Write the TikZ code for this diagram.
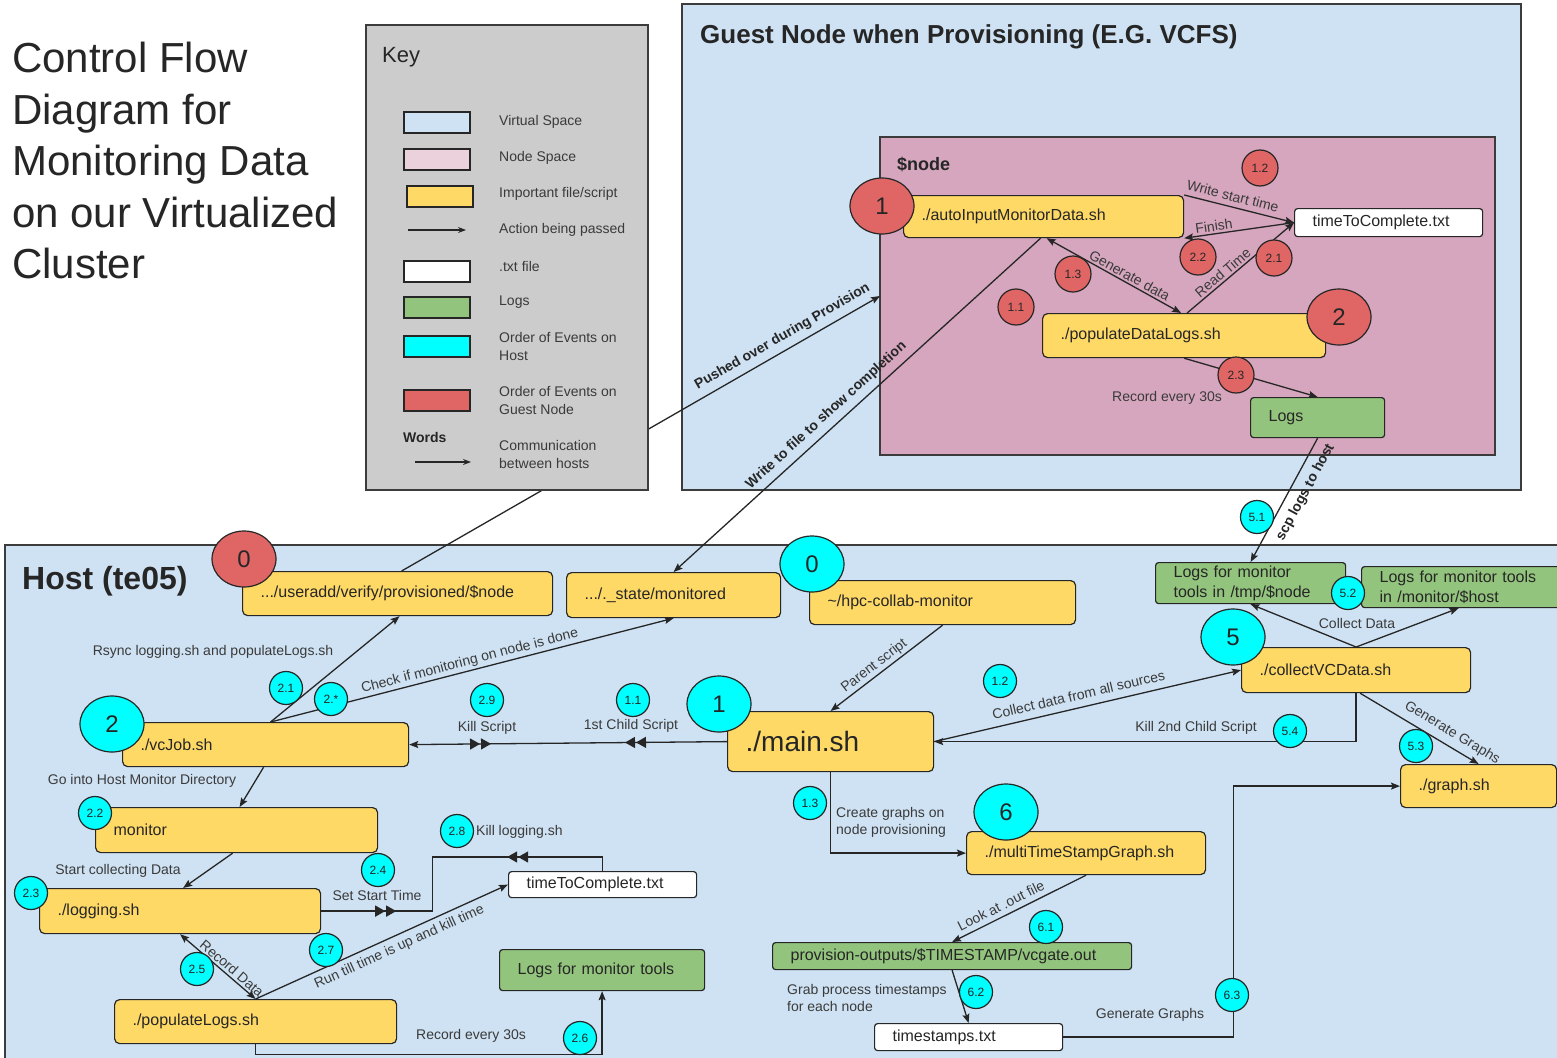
\documentclass[tikz,border=0pt]{standalone}
\usepackage{fontspec}
\setmainfont{Liberation Sans}
\usetikzlibrary{shapes.geometric,arrows.meta,decorations.markings}
\definecolor{vblue}{HTML}{CFE2F3}
\definecolor{npinkkey}{HTML}{EAD1DC}
\definecolor{npink}{HTML}{D5A6BD}
\definecolor{fyellow}{HTML}{FFD966}
\definecolor{lgreen}{HTML}{93C47D}
\definecolor{ecyan}{HTML}{00FFFF}
\definecolor{ered}{HTML}{E06666}
\definecolor{kgray}{HTML}{CCCCCC}
\definecolor{ink}{HTML}{262626}
\definecolor{lblc}{HTML}{3A3A3A}
\newcommand\fsz[2]{\fontsize{#1pt}{#2pt}\selectfont}
\newcommand\bx[7]{\pgfmathsetmacro\bxtw{#4-36}\node[#6, anchor=north west, minimum width=#4pt, minimum height=#5pt, text width=\bxtw pt, align=left, inner xsep=18pt, inner ysep=0pt] (#1) at (#2,#3) {#7};}
\tikzset{
  every node/.style={text=ink},
  region/.style={draw=ink!90, line width=1.5pt, inner sep=0pt, outer sep=0pt, anchor=north west},
  filebox/.style={draw=ink, line width=1.2pt, rounded corners=5pt, fill=fyellow, font=\fsz{16}{19}},
  txtbox/.style={draw=ink, line width=1.2pt, rounded corners=3pt, fill=white, font=\fsz{16}{19}},
  logbox/.style={draw=ink, line width=1.2pt, rounded corners=3pt, fill=lgreen, font=\fsz{16}{20}},
  hev/.style={circle, draw=ink, line width=1.2pt, fill=ecyan, minimum size=33pt, inner sep=0pt, font=\fsz{12}{14}},
  gev/.style={circle, draw=ink, line width=1.2pt, fill=ered, minimum size=36pt, inner sep=0pt, font=\fsz{12}{14}},
  bighev/.style={ellipse, draw=ink, line width=1.2pt, fill=ecyan, minimum width=64pt, minimum height=56pt, inner sep=0pt, font=\fsz{24}{28}},
  biggev/.style={ellipse, draw=ink, line width=1.2pt, fill=ered, minimum width=64pt, minimum height=56pt, inner sep=0pt, font=\fsz{24}{28}},
  conn/.style={draw=ink, line width=1.3pt, -{Stealth[length=9pt,width=7pt,inset=1.5pt]}},
  dconn/.style={draw=ink, line width=1.3pt, {Stealth[length=9pt,width=7pt,inset=1.5pt]}-{Stealth[length=9pt,width=7pt,inset=1.5pt]}},
  plainln/.style={draw=ink, line width=1.3pt},
  lab/.style={font=\fsz{14}{17}, text=lblc, inner sep=2pt},
  blab/.style={font=\fsz{14}{17}\bfseries, text=ink, inner sep=3pt},
  swatch/.style={draw=ink, line width=1.5pt, minimum width=66pt, minimum height=21pt, inner sep=0pt, anchor=north west},
  klab/.style={font=\fsz{14}{18}, text=lblc, anchor=west, align=left, inner sep=0pt}
}
\begin{document}
\begin{tikzpicture}[x=1pt,y=-1pt]
\clip (0,0) rectangle (1557,1057);
\fill[white] (0,0) rectangle (1557,1057);

% title
\node[anchor=north west, align=left, inner sep=0pt, font=\fsz{42}{51.5}] (title) at (12,42) {Control Flow\\Diagram for\\Monitoring Data\\on our Virtualized\\Cluster};

% regions
\node[region, fill=vblue, minimum width=1565pt, minimum height=525pt] (host) at (5,545) {};
\node[region, fill=vblue, minimum width=839pt, minimum height=486pt] (guest) at (682,4) {};
\node[region, fill=npink, minimum width=615pt, minimum height=318pt] (nodebox) at (880,137) {};
\node[anchor=west, font=\fsz{26}{30}\bfseries, inner sep=0pt] (guesttitle) at (700,37) {Guest Node when Provisioning (E.G. VCFS)};
\node[anchor=west, font=\fsz{18}{22}\bfseries, inner sep=0pt] (nodetitle) at (897,164) {\$node};
\node[anchor=west, font=\fsz{32}{36}\bfseries, inner sep=0pt] (hosttitle) at (22,581) {Host (te05)};

% guest boxes
\bx{auto}{903}{195}{280}{42}{filebox}{./autoInputMonitorData.sh}
\bx{ttcg}{1294}{208}{188}{28}{txtbox}{timeToComplete.txt}
\bx{popd}{1042}{313}{283}{44}{filebox}{./populateDataLogs.sh}
\bx{logsg}{1250}{397}{134}{40}{logbox}{Logs}

% host boxes
\bx{prov}{242}{571}{310}{44}{filebox}{.../useradd/verify/provisioned/\$node}
\bx{mon}{566}{572}{214}{45}{filebox}{.../.\_state/monitored}
\bx{hpc}{809}{580}{266}{44}{filebox}{\textasciitilde/hpc-collab-monitor}
\bx{vcjob}{122}{722}{286}{44}{filebox}{./vcJob.sh}
\bx{main}{727}{711}{206}{60}{filebox, font=\fsz{28}{32}}{./main.sh}
\bx{collect}{1241}{647}{229}{45}{filebox}{./collectVCData.sh}
\bx{logtmp}{1155}{562}{190}{41}{logbox}{Logs for monitor\\tools in /tmp/\$node}
\bx{loghost}{1361}{566}{200}{41}{logbox}{Logs for monitor tools\\in /monitor/\$host}
\bx{graph}{1400}{764}{156}{43}{filebox}{./graph.sh}
\bx{monitor}{95}{807}{282}{45}{filebox}{monitor}
\bx{logging}{39}{888}{281}{45}{filebox}{./logging.sh}
\bx{popl}{114}{999}{282}{44}{filebox}{./populateLogs.sh}
\bx{ttch}{508}{871}{188}{26}{txtbox}{timeToComplete.txt}
\bx{logsmt}{499}{949}{205}{41}{logbox}{Logs for monitor tools}
\bx{multi}{966}{831}{239}{43}{filebox}{./multiTimeStampGraph.sh}
\bx{vcgate}{772}{942}{359}{27}{logbox}{provision-outputs/\$TIMESTAMP/vcgate.out}
\bx{ts}{874}{1023}{188}{27}{txtbox}{timestamps.txt}

% guest connectors
\draw[conn] (auto.north east) -- (ttcg.west) node[lab, sloped, above=3pt, pos=.42] (lwst) {Write start time};
\draw[conn] (ttcg.west) -- (auto.south east) node[lab, sloped, above, pos=.72] (lfin) {Finish};
\draw[conn] ([xshift=3pt]popd.north) -- (ttcg.west) node[lab, sloped, above, pos=.38] (lrt) {Read Time};
\draw[dconn] ([xshift=3pt]auto.south) -- ([xshift=-3pt]popd.north) node[lab, sloped, above, pos=.59] (lgd) {Generate data};
\draw[conn] (popd.south) -- (logsg.north);
\node[lab] (lre) at (1167,398) {Record every 30s};

% cross connectors
\draw[conn] ([xshift=4pt]prov.north) -- (nodebox.west) node[blab, sloped, above=3pt, pos=.81] (lpush) {Pushed over during Provision};
\draw[conn] ([xshift=-3pt]auto.south) -- (mon.north) node[blab, sloped, above=3pt, pos=.56] (lwtf) {Write to file to show completion};
\draw[conn] (logsg.south) -- (logtmp.north) node[blab, sloped, below=5pt, pos=.38] (lscp) {scp logs to host};

% host connectors
\draw[conn] ([xshift=5pt]vcjob.north) -- ([xshift=2pt]prov.south);
\node[lab] (lrsync) at (213,652) {Rsync logging.sh and populateLogs.sh};
\draw[conn] ([xshift=5pt]vcjob.north) -- (mon.south) node[lab, sloped, above, pos=.5] (lchk) {Check if monitoring on node is done};
\draw[conn, postaction={decorate}, decoration={markings,
   mark=at position 91pt with {\arrow{Triangle[length=10pt,width=11pt]}},
   mark=at position 102pt with {\arrow{Triangle[length=10pt,width=11pt]}},
   mark=at position 236pt with {\arrowreversed{Triangle[length=10pt,width=11pt]}},
   mark=at position 247pt with {\arrowreversed{Triangle[length=10pt,width=11pt]}}}]
   (main.west) -- (vcjob.east);
\node[lab] (lks) at (487,728) {Kill Script};
\node[lab] (lfc) at (631,726) {1st Child Script};
\draw[conn] (hpc.south) -- (main.north) node[lab, sloped, above, pos=.56] (lpar) {Parent script};
\draw[conn] (main.east) -- (collect.west) node[lab, sloped, above=5pt, pos=.48] (lcoll) {Collect data from all sources};
\draw[conn] (collect.south) |- (main.east);
\node[lab] (lk2) at (1196,728) {Kill 2nd Child Script};
\draw[conn] (collect.north) -- (logtmp.south);
\draw[conn] (collect.north) -- ([xshift=-3pt]loghost.south);
\node[lab] (lcd) at (1357,623) {Collect Data};
\draw[conn] ([xshift=4pt]collect.south) -- (graph.north) node[lab, sloped, above=4pt, pos=.72] (lgg) {Generate Graphs};
\draw[conn] (main.south) |- (multi.west);
\node[lab, align=left, anchor=west] (lcg) at (834,822) {Create graphs on\\node provisioning};
\draw[conn] (multi.south) -- (vcgate.north) node[lab, sloped, above=3pt, pos=.6] (llook) {Look at .out file};
\draw[conn] (vcgate.south) -- (ts.north);
\node[lab, align=left, anchor=west] (lgrab) at (785,998) {Grab process timestamps\\for each node};
\draw[conn] (ts.east) -- ([xshift=170pt]ts.east) |- (graph.west);
\node[lab] (lgg2) at (1150,1015) {Generate Graphs};

\draw[conn] ([xshift=-2pt]vcjob.south) -- ([xshift=3pt]monitor.north);
\node[lab] (lgo) at (142,781) {Go into Host Monitor Directory};
\draw[conn] ([xshift=-4pt]monitor.south) -- ([xshift=3pt]logging.north);
\node[lab] (lstart) at (118,871) {Start collecting Data};
\draw[plainln, postaction={decorate}, decoration={markings,
   mark=at position 64pt with {\arrow{Triangle[length=10pt,width=11pt]}},
   mark=at position 75pt with {\arrow{Triangle[length=10pt,width=11pt]}},
   mark=at position 240pt with {\arrowreversed{Triangle[length=10pt,width=11pt]}},
   mark=at position 251pt with {\arrowreversed{Triangle[length=10pt,width=11pt]}}}]
   (logging.east) -- ([xshift=111pt]logging.east) |- ([yshift=14pt]ttch.north) -- (ttch.north);
\node[lab] (lsst) at (377,895) {Set Start Time};
\node[lab, anchor=west] (lkl) at (474,832) {Kill logging.sh};
\draw[dconn] (logging.south) -- (popl.north) node[lab, sloped, above, pos=.62] (lrd) {Record Data};
\draw[conn] (popl.north) -- (ttch.west) node[lab, sloped, below=3pt, pos=.55] (lrun) {Run till time is up and kill time};
\draw[conn] (popl.south) -- ([yshift=-10pt]popl.south) -| (logsmt.south);
\node[lab] (lr30) at (471,1036) {Record every 30s};

% event circles - guest
\node[biggev] (g1) at (882,206) {1};
\node[gev] (g12) at (1260,168) {1.2};
\node[gev] (g22) at (1198,257) {2.2};
\node[gev] (g21) at (1274,258) {2.1};
\node[gev] (g13) at (1073,274) {1.3};
\node[gev] (g11) at (1016,307) {1.1};
\node[biggev] (g2) at (1339,317) {2};
\node[gev] (g23) at (1236,375) {2.3};
% host
\node[biggev] (h0) at (244,559) {0};
\node[bighev] (c0) at (812,564) {0};
\node[bighev] (c2) at (112,724) {2};
\node[hev] (c21) at (286,688) {2.1};
\node[hev] (c2s) at (331,699) {2.*};
\node[hev] (c29) at (487,700) {2.9};
\node[hev] (c11) at (633,700) {1.1};
\node[bighev] (c1) at (719,704) {1};
\node[hev] (c12) at (1000,681) {1.2};
\node[bighev] (c5) at (1233,637) {5};
\node[hev] (c52) at (1348,593) {5.2};
\node[hev] (c53) at (1416,746) {5.3};
\node[hev] (c54) at (1290,731) {5.4};
\node[hev] (c51) at (1257,517) {5.1};
\node[hev] (c13) at (810,803) {1.3};
\node[bighev] (c6) at (1006,812) {6};
\node[hev] (c61) at (1046,927) {6.1};
\node[hev] (c62) at (976,992) {6.2};
\node[hev] (c63) at (1232,995) {6.3};
\node[hev] (c22) at (95,813) {2.2};
\node[hev] (c23) at (31,893) {2.3};
\node[hev] (c24) at (378,870) {2.4};
\node[hev] (c28) at (457,831) {2.8};
\node[hev] (c27) at (326,950) {2.7};
\node[hev] (c25) at (197,969) {2.5};
\node[hev] (c26) at (580,1038) {2.6};

% key
\node[region, fill=kgray, minimum width=282pt, minimum height=465pt] (key) at (366,25) {};
\node[anchor=west, font=\fsz{22}{26}, inner sep=0pt] (keytitle) at (382,57) {Key};
\node[swatch, fill=vblue] (sw1) at (403,111) {};
\node[klab] (k1) at (499,122) {Virtual Space};
\node[swatch, fill=npinkkey] (sw2) at (403,148) {};
\node[klab] (k2) at (499,158) {Node Space};
\node[swatch, fill=fyellow] (sw3) at (406,185) {};
\node[klab] (k3) at (499,194) {Important file/script};
\coordinate (ka1) at (408,230);
\coordinate (ka2) at (466,230);
\draw[draw=ink, line width=1.2pt, -{Stealth[length=8pt,width=6pt]}] (ka1) -- (ka2);
\node[klab] (k4) at (499,230) {Action being passed};
\node[swatch, fill=white] (sw4) at (403,260) {};
\node[klab] (k5) at (499,266) {.txt file};
\node[swatch, fill=lgreen] (sw5) at (403,296) {};
\node[klab] (k6) at (499,302) {Logs};
\node[swatch, fill=ecyan] (sw6) at (403,335) {};
\node[klab] (k7) at (499,346) {Order of Events on\\Host};
\node[swatch, fill=ered] (sw7) at (403,389) {};
\node[klab] (k8) at (499,400) {Order of Events on\\Guest Node};
\node[anchor=west, font=\fsz{14}{17}\bfseries, inner sep=0pt] (kwords) at (403,437) {Words};
\coordinate (kb1) at (415,462);
\coordinate (kb2) at (471,462);
\draw[draw=ink, line width=1.2pt, -{Stealth[length=8pt,width=6pt]}] (kb1) -- (kb2);
\node[klab] (k9) at (499,454) {Communication\\between hosts};
\end{tikzpicture}
\end{document}
